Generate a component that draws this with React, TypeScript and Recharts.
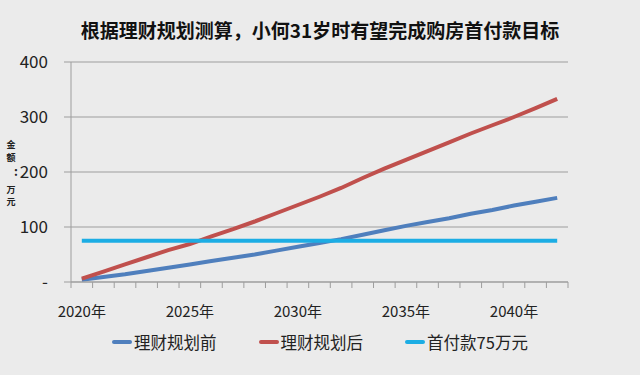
import React from "react"
import { LineChart, Line, XAxis, YAxis, CartesianGrid, Legend } from "recharts"

const years = [2020, 2021, 2022, 2023, 2024, 2025, 2026, 2027, 2028, 2029, 2030, 2031, 2032, 2033, 2034, 2035, 2036, 2037, 2038, 2039, 2040, 2041, 2042]
const before = [4, 9, 14, 20, 26, 32, 38, 44, 50, 57, 64, 71, 78, 86, 94, 102, 109, 116, 124, 131, 139, 146, 153]
const after = [6, 19, 32, 45, 58, 69, 83, 96, 110, 125, 140, 155, 171, 189, 206, 222, 238, 254, 270, 285, 300, 316, 333]
const downPayment = [75, 75, 75, 75, 75, 75, 75, 75, 75, 75, 75, 75, 75, 75, 75, 75, 75, 75, 75, 75, 75, 75, 75]
const labelYears = [2020, 2025, 2030, 2035, 2040]
const yTicks = [0, 100, 200, 300, 400]

const data = years.map((year, i) => ({
  year,
  before: before[i],
  after: after[i],
  down: downPayment[i],
}))

// tick marks sit on the borders between years, labels in the middle of a year
const xTicks = [...years.map((y) => y - 0.5), years[years.length - 1] + 0.5, ...labelYears]

const FONT = '"Noto Sans CJK SC", "Noto Sans", sans-serif'
const GRID = "#9d9d9d"

const series = [
  { key: "before", name: "理财规划前", color: "#4f7fbd" },
  { key: "after", name: "理财规划后", color: "#c0504d" },
  { key: "down", name: "首付款75万元", color: "#1cade4" },
]

function XTick({ x, y, payload }: any) {
  const v = payload.value
  if (Number.isInteger(v)) {
    return (
      <text x={x} y={y + 28} textAnchor="middle" dominantBaseline="central" fontSize={15} fill="#222" fontFamily={FONT}>
        {v}年
      </text>
    )
  }
  return <line x1={x} x2={x} y1={y} y2={y + 6} stroke={GRID} strokeWidth={1} />
}

function YTitle() {
  const chars = ["金", "额", ":", "万", "元"]
  const xs = [11, 11, 16, 11, 11]
  const ys = [144, 157, 170, 189, 201]
  return (
    <g>
      {chars.map((c, i) => (
        <text key={i} x={xs[i]} y={ys[i]} textAnchor="middle" dominantBaseline="central" fontSize={i === 2 ? 12 : 9} fontWeight="bold" fill="#222" fontFamily={FONT}>
          {c}
        </text>
      ))}
    </g>
  )
}

function LegendBox() {
  return (
    <div style={{ display: "flex", justifyContent: "center", alignItems: "center", height: 24, gap: 42, fontFamily: FONT, fontSize: 16.5, color: "#222" }}>
      {series.map((s) => (
        <div key={s.key} style={{ display: "flex", alignItems: "center" }}>
          <span style={{ display: "inline-block", width: 20, height: 4, borderRadius: 2, background: s.color, marginRight: 2 }} />
          <span>{s.name}</span>
        </div>
      ))}
    </div>
  )
}

export default function App() {
  return (
    <div style={{ position: "absolute", left: 0, top: 0, width: 640, height: 375, background: "#ebebeb", fontFamily: FONT }}>
      <div style={{ position: "absolute", left: 0, top: 17, width: 640, textAlign: "center", fontSize: 19, fontWeight: "bold", color: "#111", lineHeight: "26px" }}>
        根据理财规划测算，小何31岁时有望完成购房首付款目标
      </div>
      <LineChart width={640} height={375} data={data} margin={{ top: 62, right: 72, left: 0, bottom: 21 }}>
        <CartesianGrid vertical={false} stroke={GRID} />
        <XAxis
          dataKey="year"
          type="number"
          domain={[2019.5, 2042.5]}
          ticks={xTicks}
          interval={0}
          tickSize={0}
          tickMargin={0}
          tickLine={false}
          height={48}
          stroke={GRID}
          tick={<XTick />}
        />
        <YAxis
          domain={[0, 400]}
          ticks={yTicks}
          width={71}
          tickSize={7}
          tickMargin={16}
          stroke={GRID}
          tick={{ fontSize: 17, fill: "#222", fontFamily: FONT }}
          tickFormatter={(v) => (v === 0 ? "-" : String(v))}
          label={<YTitle />}
        />
        <Legend verticalAlign="bottom" content={<LegendBox />} wrapperStyle={{ left: 0, width: 640 }} />
        {series.map((s) => (
          <Line
            key={s.key}
            dataKey={s.key}
            name={s.name}
            stroke={s.color}
            strokeWidth={4}
            dot={false}
            type="linear"
            isAnimationActive={false}
          />
        ))}
      </LineChart>
    </div>
  )
}
